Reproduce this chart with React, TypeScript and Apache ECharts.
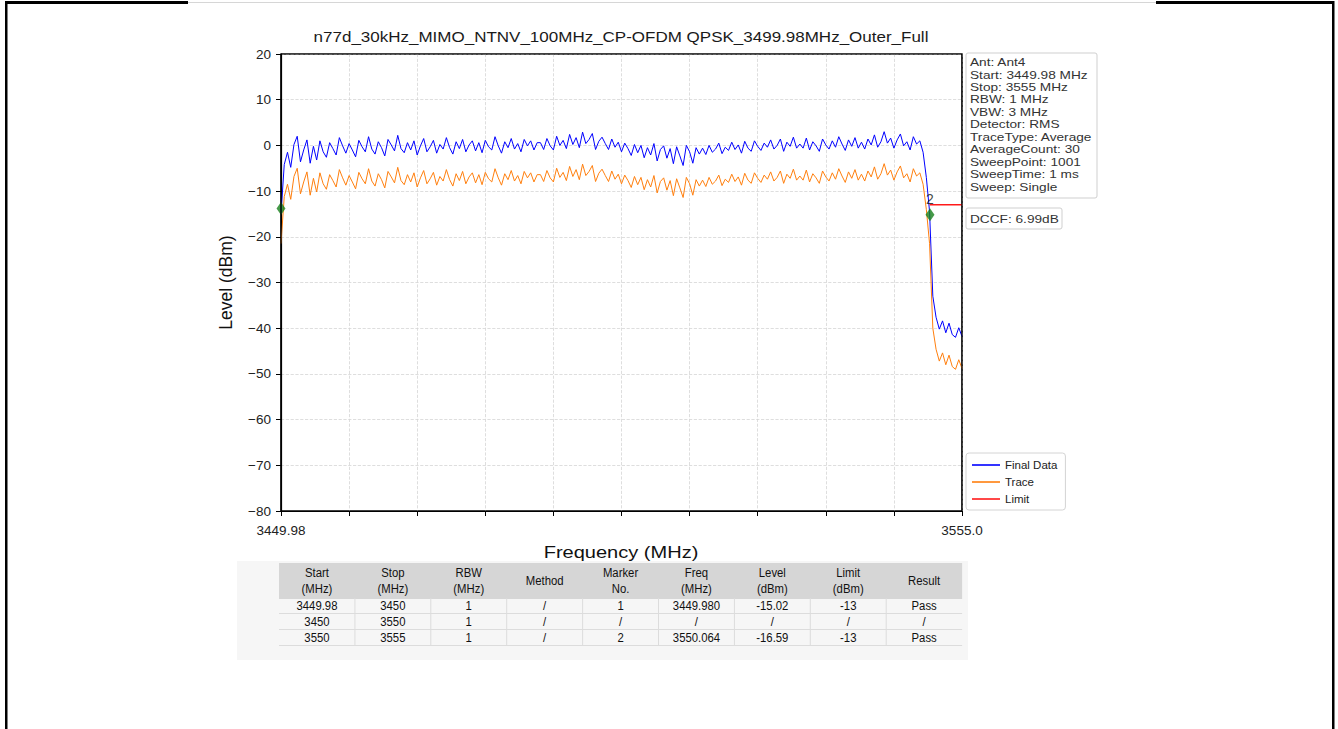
import React, { useEffect, useRef } from "react";
import * as echarts from "echarts";

// ---------------- DATA ----------------
const TITLE = "n77d_30kHz_MIMO_NTNV_100MHz_CP-OFDM QPSK_3499.98MHz_Outer_Full";
const X_NAME = "Frequency (MHz)";
const Y_NAME = "Level (dBm)";

const FREQ_START = 3449.98;
const FREQ_STOP = 3555.0;

const X_LABEL_VALUES = [3449.98, 3555.0];
const X_LABELS = ["3449.98", "3555.0"];
const Y_MIN = -80;
const Y_MAX = 20;
const Y_STEP = 10;
const X_TICK_COUNT = 10;

// Final Data (blue), sampled evenly from FREQ_START to FREQ_STOP
const FINAL_DATA = [
  -15.0,
  -4.2, -1.5, -4.8, 0.2, 2.0, -3.6, -1.0, 1.2, -3.9, -0.2,
  -3.2, 1.0, -1.4, -2.6, 0.6, -0.7, -2.1, 1.7, -0.1, -1.7,
  0.4, -1.0, -2.5, 1.1, -0.3, -1.4, 1.9, -0.8, -1.9, 0.8,
  -0.5, -2.3, 1.3, 0.1, -1.2, 2.2, -0.7, -1.6, 0.6, -1.0,
  1.0, -2.1, -0.1, 1.5, -1.4, -0.3, 1.1, -1.7, 0.2, -0.8,
  1.7, -0.5, -1.9, 0.8, -0.7, 1.3, -1.4, 0.1, 1.0, -1.2,
  0.6, -1.6, 1.1, -0.3, -1.0, 1.9, -0.1, -1.7, 0.8, -0.5,
  1.5, -0.8, 0.4, -1.4, 1.3, -0.1, 1.0, -1.0, 0.6, 0.6,
  -0.9, 1.5, -0.1, -1.0, 2.0, 0.0, 1.1, -0.7, 2.4, 0.2,
  1.7, -0.5, 2.9, 0.4, 1.3, 2.6, -0.9, 0.9, 1.8, 0.4,
  -0.9, 1.4, -0.4, 0.7, -1.4, 0.5, -0.7, -2.2, 0.2, -1.6,
  0.0, -2.7, -0.5, -2.1, 0.4, -3.4, -0.9, -0.1, -2.8, -0.7,
  -4.0, -0.3, -2.3, -4.4, 0.0, -1.4, -3.9, -0.5, -1.9, -0.6,
  -2.0, 0.0, -1.5, -0.8, 0.5, -1.8, -0.4, -1.1, 0.7, -0.9,
  0.1, -1.7, 0.9, -0.6, -1.3, 1.0, -0.2, -1.1, 0.5, -0.4,
  1.2, -0.8, 0.0, 1.4, -1.3, 0.7, -0.2, 1.8, -0.6, 0.3,
  -0.6, 1.6, -1.0, 0.8, -0.1, -1.3, 1.4, 0.1, -0.8, 1.0,
  -0.4, 1.9, 0.3, -1.1, 1.2, -0.2, 1.7, -0.6, 0.7, -0.8,
  1.4, 0.1, 2.3, -0.4, 0.8, 3.0, 0.5, 1.6, -0.6, 1.2,
  2.5, -0.1, 0.8, -1.0, 1.9, 0.3, 1.0, -1.5, -7.0, -14.5,
  -33.0, -37.6, -40.2, -38.4, -41.0, -38.9, -41.4, -42.0, -39.9, -41.8,
];

// Trace (orange)
const TRACE = [
  -21.5,
  -11.2, -8.5, -11.8, -6.8, -5.0, -10.6, -8.0, -5.8, -10.9, -7.2,
  -10.2, -6.0, -8.4, -9.6, -6.4, -7.7, -9.1, -5.3, -7.1, -8.7,
  -6.6, -8.0, -9.5, -5.9, -7.3, -8.4, -5.1, -7.8, -8.9, -6.2,
  -7.5, -9.3, -5.7, -6.9, -8.2, -4.8, -7.7, -8.6, -6.4, -8.0,
  -6.0, -9.1, -7.1, -5.5, -8.4, -7.3, -5.9, -8.7, -6.8, -7.8,
  -5.3, -7.5, -8.9, -6.2, -7.7, -5.7, -8.4, -6.9, -6.0, -8.2,
  -6.4, -8.6, -5.9, -7.3, -8.0, -5.1, -7.1, -8.7, -6.2, -7.5,
  -5.5, -7.8, -6.6, -8.4, -5.7, -7.1, -6.0, -8.0, -6.4, -6.4,
  -7.9, -5.5, -7.1, -8.0, -5.0, -7.0, -5.9, -7.7, -4.6, -6.8,
  -5.3, -7.5, -4.1, -6.6, -5.7, -4.4, -7.9, -6.1, -5.2, -6.6,
  -7.9, -5.6, -7.4, -6.3, -8.4, -6.5, -7.7, -9.2, -6.8, -8.6,
  -7.0, -9.7, -7.5, -9.1, -6.6, -10.4, -7.9, -7.1, -9.8, -7.7,
  -11.0, -7.3, -9.3, -11.4, -7.0, -8.4, -10.9, -7.5, -8.9, -7.6,
  -9.0, -7.0, -8.5, -7.8, -6.5, -8.8, -7.4, -8.1, -6.3, -7.9,
  -6.9, -8.7, -6.1, -7.6, -8.3, -6.0, -7.2, -8.1, -6.5, -7.4,
  -5.8, -7.8, -7.0, -5.6, -8.3, -6.3, -7.2, -5.2, -7.6, -6.7,
  -7.6, -5.4, -8.0, -6.2, -7.1, -8.3, -5.6, -6.9, -7.8, -6.0,
  -7.4, -5.1, -6.7, -8.1, -5.8, -7.2, -5.3, -7.6, -6.3, -7.8,
  -5.6, -6.9, -4.7, -7.4, -6.2, -4.0, -6.5, -5.4, -7.6, -5.8,
  -4.5, -7.1, -6.2, -8.0, -5.1, -6.7, -6.0, -8.5, -14.0, -21.5,
  -40.0, -44.6, -47.2, -45.4, -48.0, -45.9, -48.4, -49.0, -46.9, -48.8,
];

const LIMIT_LEVEL = -13;
const LIMIT_RANGES = [
  [3449.98, 3450.0],
  [3550.0, 3555.0],
];

const MARKER_NAMES = ["1", "2"];
const MARKER_FREQS = [3449.98, 3550.064];
const MARKER_LEVELS = [-13.8, -15.2];
const MARKER_LABEL_SHOWN = [false, true];

const INFO_LINES = [
  "Ant: Ant4",
  "Start: 3449.98 MHz",
  "Stop: 3555 MHz",
  "RBW: 1 MHz",
  "VBW: 3 MHz",
  "Detector: RMS",
  "TraceType: Average",
  "AverageCount: 30",
  "SweepPoint: 1001",
  "SweepTime: 1 ms",
  "Sweep: Single",
];
const DCCF_TEXT = "DCCF: 6.99dB";

const TABLE_HEADERS = [
  ["Start", "(MHz)"],
  ["Stop", "(MHz)"],
  ["RBW", "(MHz)"],
  ["Method"],
  ["Marker", "No."],
  ["Freq", "(MHz)"],
  ["Level", "(dBm)"],
  ["Limit", "(dBm)"],
  ["Result"],
];
const TABLE_ROWS = [
  ["3449.98", "3450", "1", "/", "1", "3449.980", "-15.02", "-13", "Pass"],
  ["3450", "3550", "1", "/", "/", "/", "/", "/", "/"],
  ["3550", "3555", "1", "/", "2", "3550.064", "-16.59", "-13", "Pass"],
];

// ---------------- STYLE ----------------
const FONT = '"Liberation Sans", Arial, Helvetica, sans-serif';
const TEXT_SX = 1.22;
const GRID = { left: 281, top: 54, width: 681, height: 457 };

function buildGraphics() {
  const g: any[] = [];
  // page frame
  g.push({ type: "rect", silent: true, shape: { x: 5, y: 1, width: 183, height: 3 }, style: { fill: "#000" } });
  g.push({ type: "line", silent: true, shape: { x1: 188, y1: 2.5, x2: 1156, y2: 2.5 }, style: { stroke: "#d6d6d6", lineWidth: 1 } });
  g.push({ type: "rect", silent: true, shape: { x: 1156, y: 1, width: 178, height: 3 }, style: { fill: "#000" } });
  g.push({ type: "rect", silent: true, shape: { x: 5, y: 1, width: 2.5, height: 728 }, style: { fill: "#000" } });
  g.push({ type: "rect", silent: true, shape: { x: 1332, y: 1, width: 2.5, height: 728 }, style: { fill: "#000" } });

  // plot frame on top of the grid lines
  g.push({
    type: "rect", silent: true, z: 100,
    shape: { x: GRID.left, y: GRID.top, width: GRID.width, height: GRID.height },
    style: { fill: "none", stroke: "#000", lineWidth: 1.2 },
  });

  // title
  g.push({
    type: "text", silent: true, x: 621, y: 37, scaleX: 1.215,
    style: { text: TITLE, fontSize: 14, fontFamily: FONT, fill: "#1a1a1a", align: "center", verticalAlign: "middle" },
  });

  // info box
  g.push({
    type: "rect", silent: true, shape: { x: 966, y: 53, width: 131, height: 145, r: 2 },
    style: { fill: "#fff", stroke: "#cfcfcf", lineWidth: 1 },
  });
  INFO_LINES.forEach((t, i) => {
    g.push({
      type: "text", silent: true, x: 970, y: 62.5 + i * 12.46, scaleX: TEXT_SX,
      style: { text: t, fontSize: 11.2, fontFamily: FONT, fill: "#333", align: "left", verticalAlign: "middle" },
    });
  });
  // DCCF box
  g.push({
    type: "rect", silent: true, shape: { x: 966, y: 208, width: 96, height: 21, r: 2 },
    style: { fill: "#fff", stroke: "#cfcfcf", lineWidth: 1 },
  });
  g.push({
    type: "text", silent: true, x: 970, y: 219, scaleX: TEXT_SX,
    style: { text: DCCF_TEXT, fontSize: 11.2, fontFamily: FONT, fill: "#333", align: "left", verticalAlign: "middle" },
  });

  // table
  const tLeft = 279;
  const colW = 75.9;
  const nCols = TABLE_HEADERS.length;
  const headTop = 563;
  const headH = 36;
  const rowTop = 598;
  const rowH = 16;
  g.push({ type: "rect", silent: true, shape: { x: 237, y: 561, width: 731, height: 99 }, style: { fill: "#f6f6f6" } });
  g.push({ type: "rect", silent: true, shape: { x: tLeft, y: headTop, width: colW * nCols, height: headH }, style: { fill: "#d6d6d6" } });
  for (let r = 1; r <= TABLE_ROWS.length; r++) {
    g.push({
      type: "line", silent: true,
      shape: { x1: tLeft, y1: rowTop + r * rowH - 0.5, x2: tLeft + colW * nCols, y2: rowTop + r * rowH - 0.5 },
      style: { stroke: "#dcdcdc", lineWidth: 1 },
    });
  }
  for (let c = 1; c < nCols; c++) {
    g.push({
      type: "line", silent: true,
      shape: { x1: tLeft + c * colW, y1: rowTop, x2: tLeft + c * colW, y2: rowTop + rowH * TABLE_ROWS.length },
      style: { stroke: "#dcdcdc", lineWidth: 1 },
    });
  }
  TABLE_HEADERS.forEach((lines, c) => {
    const cx = tLeft + (c + 0.5) * colW;
    lines.forEach((t, k) => {
      const cy = lines.length === 1 ? headTop + headH / 2 : headTop + 9.5 + k * 16.5;
      g.push({
        type: "text", silent: true, x: cx, y: cy, scaleX: 0.84,
        style: { text: t, fontSize: 13.5, fontFamily: FONT, fill: "#111", align: "center", verticalAlign: "middle" },
      });
    });
  });
  TABLE_ROWS.forEach((row, r) => {
    row.forEach((t, c) => {
      g.push({
        type: "text", silent: true, x: tLeft + (c + 0.5) * colW, y: rowTop + r * rowH + 7.5, scaleX: 0.84,
        style: { text: t, fontSize: 13.5, fontFamily: FONT, fill: "#111", align: "center", verticalAlign: "middle" },
      });
    });
  });

  // x axis name (drawn after the table panel so it stays on top)
  g.push({
    type: "text", silent: true, x: 621, y: 552, scaleX: 1.2,
    style: { text: X_NAME, fontSize: 16.7, fontFamily: FONT, fill: "#111", align: "center", verticalAlign: "middle" },
  });
  return g;
}

export default function App() {
  const ref = useRef<HTMLDivElement>(null);
  useEffect(() => {
    if (!ref.current) return;
    const chart = echarts.init(ref.current, null, { renderer: "svg" });
    const n = FINAL_DATA.length;
    const step = (FREQ_STOP - FREQ_START) / (n - 1);
    const freqs = FINAL_DATA.map((_, i) => FREQ_START + i * step);

    const splitStyle = { color: "#d6d6d6", type: "dashed" as const, width: 0.8 };

    const option: any = {
      animation: false,
      backgroundColor: "#fff",
      grid: { ...GRID, show: true, borderColor: "#000", borderWidth: 1.2, backgroundColor: "transparent" },
      legend: {
        data: ["Final Data", "Trace", "Limit"],
        orient: "vertical",
        left: 966,
        top: 453,
        icon: "rect",
        itemWidth: 28,
        itemHeight: 1.6,
        itemGap: 5,
        padding: [6, 8, 5, 6],
        backgroundColor: "#fff",
        borderColor: "#d4d4d4",
        borderWidth: 1,
        borderRadius: 3,
        selectedMode: false,
        textStyle: { fontSize: 11.5, color: "#222", fontFamily: FONT },
      },
      xAxis: [
        {
          type: "value",
          min: FREQ_START,
          max: FREQ_STOP,
          axisLine: { show: true, onZero: false, lineStyle: { color: "#000", width: 1.2 } },
          axisTick: { show: false },
          splitLine: { show: false },
          axisLabel: {
            customValues: X_LABEL_VALUES,
            showMinLabel: true,
            showMaxLabel: true,
            hideOverlap: false,
            fontSize: 13.5,
            color: "#222",
            fontFamily: FONT,
            margin: 12,
            formatter: (v: number) => {
              const idx = X_LABEL_VALUES.findIndex((x) => Math.abs(x - v) < 1e-6);
              return idx >= 0 ? X_LABELS[idx] : "";
            },
          },
        },
        {
          type: "value",
          min: 0,
          max: X_TICK_COUNT,
          interval: 1,
          position: "bottom",
          axisLine: { show: false, onZero: false },
          axisTick: { show: true, length: 5, lineStyle: { color: "#000", width: 1 } },
          axisLabel: { show: false },
          splitLine: { show: true, lineStyle: splitStyle },
        },
      ],
      yAxis: {
        type: "value",
        min: Y_MIN,
        max: Y_MAX,
        interval: Y_STEP,
        name: Y_NAME,
        nameLocation: "middle",
        nameGap: 46,
        nameTextStyle: { fontSize: 17.5, color: "#111", fontFamily: FONT },
        axisLine: { show: true, onZero: false, lineStyle: { color: "#000", width: 1.2 } },
        axisTick: { show: true, length: 5, lineStyle: { color: "#000", width: 1 } },
        axisLabel: {
          fontSize: 13.5,
          color: "#222",
          fontFamily: FONT,
          margin: 10,
          formatter: (v: number) => (v < 0 ? "\u2212" + Math.abs(v) : String(v)),
        },
        splitLine: { show: true, lineStyle: splitStyle },
      },
      series: [
        {
          name: "Final Data",
          type: "line",
          data: freqs.map((f, i) => [f, FINAL_DATA[i]]),
          symbol: "none",
          lineStyle: { color: "#0000ff", width: 1 },
          itemStyle: { color: "#0000ff" },
          z: 2,
        },
        {
          name: "Trace",
          type: "line",
          data: freqs.map((f, i) => [f, TRACE[i]]),
          symbol: "none",
          lineStyle: { color: "#ff7f0e", width: 1 },
          itemStyle: { color: "#ff7f0e" },
          z: 3,
        },
        ...LIMIT_RANGES.map((r) => ({
          name: "Limit",
          type: "line",
          data: [
            [r[0], LIMIT_LEVEL],
            [r[1], LIMIT_LEVEL],
          ],
          symbol: "none",
          lineStyle: { color: "#ff1a1a", width: 1.5 },
          itemStyle: { color: "#ff1a1a" },
          z: 4,
        })),
        {
          name: "Markers",
          type: "scatter",
          clip: false,
          symbol: "diamond",
          symbolSize: [9, 13],
          itemStyle: { color: "#16801a" },
          z: 5,
          data: MARKER_NAMES.map((nm, i) => ({
            value: [MARKER_FREQS[i], MARKER_LEVELS[i]],
            label: {
              show: MARKER_LABEL_SHOWN[i],
              position: "top",
              distance: 2,
              formatter: nm,
              fontSize: 14,
              color: "#111",
              fontFamily: FONT,
            },
          })),
        },
      ],
      graphic: { elements: buildGraphics() },
    };
    chart.setOption(option);
    return () => chart.dispose();
  }, []);
  return (
    <div
      ref={ref}
      style={{ position: "fixed", left: 0, top: 0, width: 1338, height: 729, background: "#fff" }}
    />
  );
}
